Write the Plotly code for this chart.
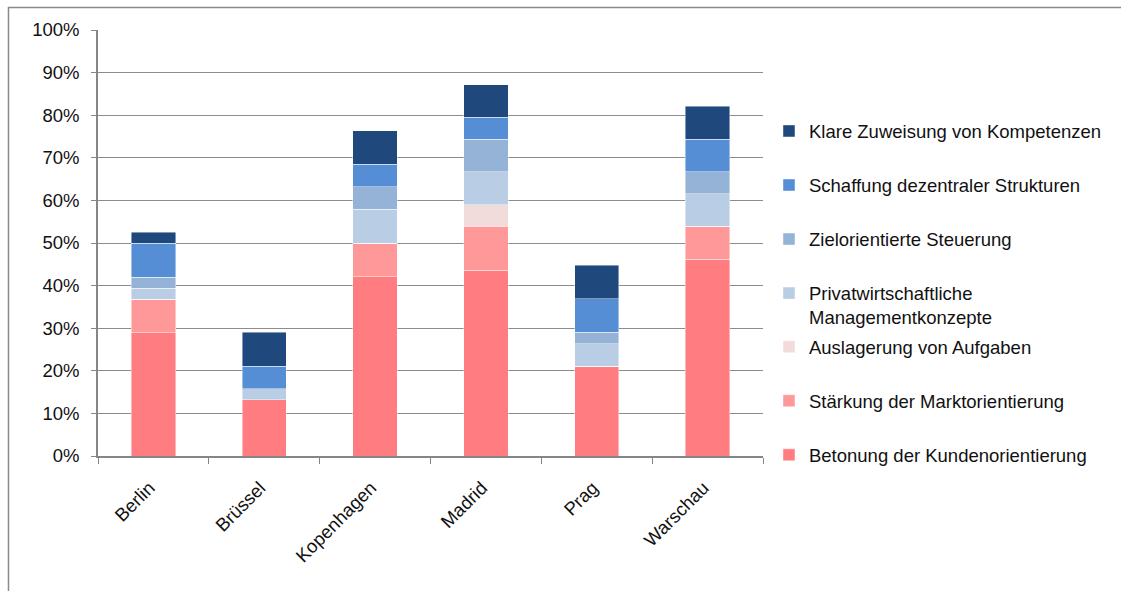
import plotly.graph_objects as go

# Cities surveyed
cities = ["Berlin", "Brüssel", "Kopenhagen", "Madrid", "Prag", "Warschau"]

# Share of respondents per reform focus (percent), stacked bottom to top
kundenorientierung = [28.9, 13.2, 42.1, 43.6, 21.1, 46.2]
marktorientierung = [7.9, 0.0, 7.9, 10.3, 0.0, 7.7]
auslagerung = [0.0, 0.0, 0.0, 5.1, 0.0, 0.0]
privatwirtschaftlich = [2.6, 2.6, 7.9, 7.7, 5.3, 7.7]
zielorientiert = [2.6, 0.0, 5.3, 7.7, 2.6, 5.1]
dezentral = [7.9, 5.3, 5.3, 5.1, 7.9, 7.7]
kompetenzen = [2.6, 7.9, 7.9, 7.7, 7.9, 7.7]

y_ticks = [0, 10, 20, 30, 40, 50, 60, 70, 80, 90, 100]

# (name, values, colour, legend box) – bottom segment first
series = [
    ("Betonung der Kundenorientierung", kundenorientierung, "#FF7C80", "legend2"),
    ("Stärkung der Marktorientierung", marktorientierung, "#FF9999", "legend2"),
    ("Auslagerung von Aufgaben", auslagerung, "#F2DCDB", "legend2"),
    ("Privatwirtschaftliche<br>Managementkonzepte", privatwirtschaftlich, "#B9CDE5", "legend"),
    ("Zielorientierte Steuerung", zielorientiert, "#95B3D7", "legend"),
    ("Schaffung dezentraler Strukturen", dezentral, "#558ED5", "legend"),
    ("Klare Zuweisung von Kompetenzen", kompetenzen, "#1F497D", "legend"),
]

FONT = "Liberation Sans, Arial, sans-serif"
FS = 18.5

fig = go.Figure()
n = len(series)
for i, (name, values, color, leg) in enumerate(series):
    fig.add_trace(go.Bar(
        x=cities,
        y=values,
        name=name,
        legend=leg,
        legendgroup=f"g{i}",
        legendrank=n - i,  # top segment listed first
        marker=dict(color=color, line=dict(color="rgba(255,255,255,0.55)", width=0.8)),
        width=0.4,
        hoverinfo="x+y+name",
    ))

legend_style = dict(
    traceorder="grouped",
    tracegroupgap=27,
    valign="top",
    bgcolor="rgba(0,0,0,0)",
    font=dict(family=FONT, size=FS, color="#111111"),
    xanchor="left",
    yanchor="top",
)

fig.update_layout(
    barmode="stack",
    width=1121,
    height=591,
    margin=dict(l=98, r=358, t=30, b=135),
    paper_bgcolor="white",
    plot_bgcolor="white",
    font=dict(family=FONT, size=FS, color="#111111"),
    showlegend=True,
    legend=dict(x=1.009, y=0.8065, **legend_style),
    legend2=dict(x=1.009, y=0.30, **legend_style),
    xaxis=dict(
        type="category",
        tickangle=-45,
        tickson="boundaries",
        ticks="outside",
        ticklen=6,
        tickcolor="#868686",
        ticklabelstandoff=12,
        ticklabelshift=-4,
        showline=True,
        linecolor="#868686",
        linewidth=1.5,
        showgrid=False,
        tickfont=dict(family=FONT, size=FS, color="#111111"),
    ),
    yaxis=dict(
        range=[0, 100],
        tickvals=y_ticks,
        ticktext=[f"{v}%" for v in y_ticks],
        ticks="outside",
        ticklen=5,
        tickcolor="#868686",
        ticklabelstandoff=8,
        showline=True,
        linecolor="#868686",
        linewidth=1.5,
        showgrid=True,
        gridcolor="#8c8c8c",
        gridwidth=1.3,
        zeroline=False,
        tickfont=dict(family=FONT, size=FS, color="#111111"),
    ),
    shapes=[
        # outer chart frame
        dict(type="rect", xref="paper", yref="paper",
             x0=-0.1346, x1=1.56, y0=-0.36, y1=1.0528,
             line=dict(color="#8a8a8a", width=1.5), fillcolor="rgba(0,0,0,0)",
             layer="below"),
    ],
)

fig.write_html("out.html")
